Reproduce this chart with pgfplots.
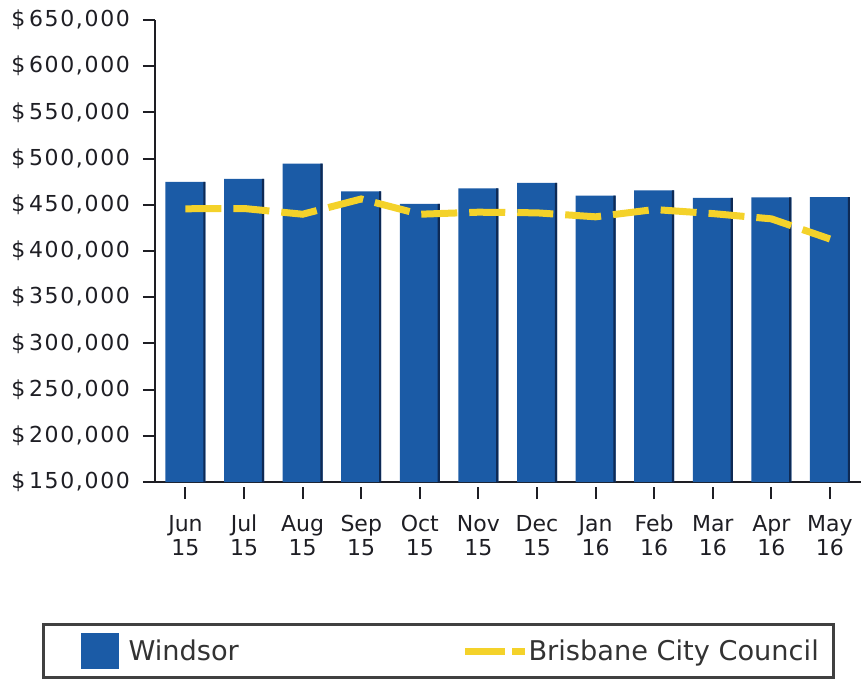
\documentclass[border=0pt]{standalone}
\usepackage{pgfplots}
\pgfplotsset{compat=1.18}
\usepackage{fontspec}
\setmainfont{DejaVu Sans}
\definecolor{barblue}{HTML}{1B5BA6}
\definecolor{barnavy}{HTML}{0E2A55}
\definecolor{lineyellow}{HTML}{F4D22A}
\definecolor{axisdark}{HTML}{1E1E24}
\pgfplotstableread{
x  windsor
0  474700
1  478000
2  494500
3  464600
4  451000
5  467800
6  473600
7  460000
8  465700
9  457400
10 458000
11 458200
}\windsordata
\begin{document}
\begin{tikzpicture}
\begin{axis}[
  scale only axis, width=353pt, height=231pt,
  xmin=-0.52, xmax=11.53, ymin=150000, ymax=650000,
  axis x line=bottom, axis y line=left,
  axis line style={-, line width=1pt, axisdark},
  xtick={0,1,2,3,4,5,6,7,8,9,10,11},
  xticklabels={{Jun\\15},{Jul\\15},{Aug\\15},{Sep\\15},{Oct\\15},{Nov\\15},{Dec\\15},{Jan\\16},{Feb\\16},{Mar\\16},{Apr\\16},{May\\16}},
  xticklabel style={align=center, font=\fontsize{11}{12}\selectfont, text=axisdark, yshift=-7pt},
  ytick={150000,200000,250000,300000,350000,400000,450000,500000,550000,600000,650000},
  yticklabels={{\$\,150,000},{\$\,200,000},{\$\,250,000},{\$\,300,000},{\$\,350,000},{\$\,400,000},{\$\,450,000},{\$\,500,000},{\$\,550,000},{\$\,600,000},{\$\,650,000}},
  yticklabel style={font=\fontsize{11}{13}\selectfont\addfontfeatures{LetterSpace=7.5}, text=axisdark, xshift=-3pt},
  scaled y ticks=false,
  tick align=outside, major tick length=6pt,
  tick style={line width=1pt, axisdark},
  xtick style={yshift=-2.5pt},
  legend columns=2, legend cell align=left,
  legend style={at={(-0.160,-0.306)}, anchor=north west, draw=black!75, line width=1.5pt,
    inner xsep=0pt, inner ysep=4.25pt, column sep=0pt,
    font=\fontsize{13.6}{15}\selectfont, text=black!80, nodes={inner sep=0pt}},
]
\addplot[ybar, bar width=20pt, bar shift=0pt, fill=barblue, draw=none,
  legend image code/.code={\path[draw=none, fill=none] (0pt,0pt) -- (18.5pt,0pt); \fill[barblue] (18.5pt,-9pt) rectangle (37.5pt,9pt);}]
  table[x=x, y=windsor] {\windsordata};
\addlegendentry{\hspace*{5pt}\makebox[166.5pt][l]{Windsor}}
\addplot[ybar, bar width=1.1pt, bar shift=9.45pt, fill=barnavy, draw=none, forget plot]
  table[x=x, y=windsor] {\windsordata};
\addplot[lineyellow, line width=3.5pt, dash pattern=on 18pt off 6pt,
  legend image code/.code={\draw[lineyellow, line width=3.5pt, dash pattern=on 20pt off 3.5pt] (0pt,0pt) -- (30pt,0pt);}]
coordinates {(0,445700) (1,446000) (2,439800) (3,456300) (4,439800) (5,442000)
             (6,441300) (7,437000) (8,444900) (9,440500) (10,434800) (11,413000)};
\addlegendentry{\makebox[144pt][l]{Brisbane City Council}\hspace*{8.5pt}}
\end{axis}
\pgfresetboundingbox
\path[use as bounding box] (-77.5pt,-99pt) rectangle (353pt,241pt);
\end{tikzpicture}
\end{document}
